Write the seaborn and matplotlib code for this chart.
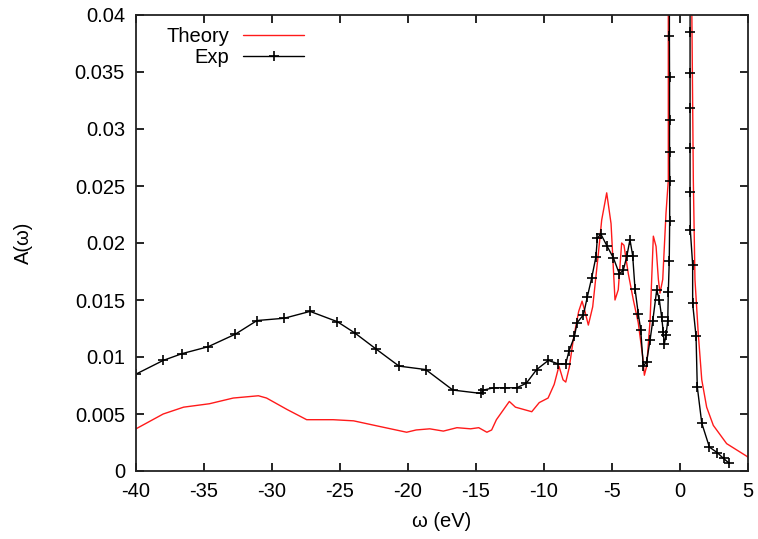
import matplotlib
matplotlib.use('Agg')
import matplotlib.pyplot as plt
import pandas as pd
import seaborn as sns

# Theory curve (red)
theory_w = [-40, -38.0, -36.5, -34.6, -32.85, -31.0, -30.4, -28.9, -27.45, -25.5,
            -24.0, -22.06, -20.1, -19.4, -18.4, -17.4, -16.4, -15.4, -14.8, -14.2,
            -13.85, -13.5, -12.55, -12.1, -10.9, -10.35, -9.7, -9.25, -8.9, -8.6,
            -8.4, -8.14, -7.85, -7.45, -7.2, -6.99, -6.74, -6.42, -6.0, -5.76,
            -5.39, -5.07, -4.78, -4.54, -4.29, -4.12, -3.8, -3.43, -3.07, -2.74,
            -2.62, -2.45, -2.2, -1.96, -1.76, -1.59, -1.47, -1.27, -1.03, -0.86,
            -0.86, 0.0, 0.85, 0.98, 1.1, 1.34, 1.6, 1.96, 2.45, 3.43, 4.9, 5.0]
theory_a = [0.0037, 0.0050, 0.0056, 0.0059, 0.0064, 0.0066, 0.0064, 0.0054, 0.0045, 0.0045,
            0.0044, 0.0039, 0.0034, 0.0036, 0.0037, 0.0035, 0.0038, 0.0037, 0.0038, 0.0034,
            0.0036, 0.0045, 0.0061, 0.0056, 0.0052, 0.0060, 0.0064, 0.0076, 0.0092, 0.0080,
            0.0078, 0.0091, 0.0115, 0.0140, 0.0149, 0.0140, 0.0128, 0.0144, 0.0191, 0.0220,
            0.0244, 0.0217, 0.0150, 0.0159, 0.0200, 0.0198, 0.0173, 0.0150, 0.0130, 0.0100,
            0.0084, 0.0092, 0.0132, 0.0206, 0.0197, 0.0168, 0.0156, 0.0168, 0.0226, 0.0255,
            0.0430, 0.0700, 0.0430, 0.0255, 0.0168, 0.0121, 0.0080, 0.0056, 0.0040, 0.0024,
            0.0013, 0.0012]

# Experimental points (black, with + markers)
exp_w = [-40, -38.0, -36.6, -34.7, -32.7, -31.1, -29.1, -27.2, -25.2, -23.9,
         -22.35, -20.66, -18.7, -16.7, -14.6, -14.45, -13.7, -12.9, -12.0, -11.3,
         -10.54, -9.68, -8.95, -8.4, -8.17, -7.76, -7.57, -7.1, -6.81, -6.5,
         -6.18, -6.08, -5.83, -5.35, -4.9, -4.46, -4.17, -3.9, -3.68, -3.48,
         -3.31, -3.07, -2.89, -2.7, -2.45, -2.2, -2.0, -1.71, -1.52, -1.35,
         -1.23, -1.16, -1.03, -0.9, -0.86, -0.79, -0.76, -0.76, -0.77, -0.77,
         -0.77, -0.78, -0.78, 0.0, 0.74, 0.74, 0.74, 0.74, 0.74, 0.74,
         0.76, 0.93, 0.93, 1.18, 1.27, 1.6, 2.16, 2.75, 3.2, 3.6]
exp_a = [0.0085, 0.0097, 0.0103, 0.0109, 0.0120, 0.0132, 0.0134, 0.0140, 0.0131, 0.0121,
         0.0107, 0.0092, 0.0089, 0.0071, 0.0068, 0.0071, 0.0073, 0.0073, 0.0073, 0.0077,
         0.0089, 0.0097, 0.0094, 0.0094, 0.0105, 0.0118, 0.0130, 0.0137, 0.0153, 0.0169,
         0.0188, 0.0204, 0.0208, 0.0197, 0.0187, 0.0173, 0.0176, 0.0189, 0.0203, 0.0189,
         0.0160, 0.0138, 0.0124, 0.0092, 0.0096, 0.0115, 0.0132, 0.0159, 0.0150, 0.0135,
         0.0122, 0.0111, 0.0119, 0.0132, 0.0157, 0.0184, 0.0219, 0.0254, 0.0280, 0.0308,
         0.0346, 0.0382, 0.0430, 0.0600, 0.0430, 0.0385, 0.0349, 0.0318, 0.0283, 0.0245,
         0.0211, 0.0181, 0.0147, 0.0118, 0.0074, 0.0042, 0.0021, 0.0016, 0.0011, 0.0007]

x_ticks = [-40, -35, -30, -25, -20, -15, -10, -5, 0, 5]
y_ticks = [0, 0.005, 0.01, 0.015, 0.02, 0.025, 0.03, 0.035, 0.04]
y_tick_labels = ['0', '0.005', '0.01', '0.015', '0.02', '0.025', '0.03', '0.035', '0.04']

sns.set_style('ticks')
plt.rcParams['font.family'] = ['Liberation Sans', 'DejaVu Sans']
plt.rcParams['font.size'] = 14.5
for key in ['text.color', 'axes.labelcolor', 'xtick.color', 'ytick.color']:
    plt.rcParams[key] = 'black'

theory = pd.DataFrame({'w': theory_w, 'A': theory_a})
exp = pd.DataFrame({'w': exp_w, 'A': exp_a})

fig = plt.figure(figsize=(7.58, 5.39), dpi=100)
ax = fig.add_axes([136 / 758, 68 / 539, 612 / 758, 456 / 539])

sns.lineplot(data=theory, x='w', y='A', sort=False, estimator=None,
             color='#ff1a1a', linewidth=1.1, label='Theory', ax=ax)
sns.lineplot(data=exp, x='w', y='A', sort=False, estimator=None,
             color='black', linewidth=1.9, marker='+', markersize=6.5,
             markeredgewidth=1.2, markeredgecolor='black', label='Exp', ax=ax)

ax.set_xlim(-40, 5)
ax.set_ylim(0, 0.04)
ax.set_xticks(x_ticks)
ax.set_xticklabels([str(t) for t in x_ticks])
ax.set_yticks(y_ticks)
ax.set_yticklabels(y_tick_labels)
ax.tick_params(direction='in', length=6, width=1.2, top=True, right=True,
               labelsize=14.5, pad=8, colors='black')
for s in ax.spines.values():
    s.set_linewidth(1.3)
    s.set_color('#222222')

ax.set_xlabel('ω (eV)', fontsize=14.5, labelpad=8)
ax.set_ylabel('A(ω)', fontsize=14.5, labelpad=30)

handles, labels = ax.get_legend_handles_labels()
for h in handles:
    h.set_linewidth(1.0)
leg = ax.legend(handles, labels, loc='upper left', bbox_to_anchor=(0.03, 1.0),
                frameon=False, markerfirst=False, handlelength=3.0,
                handletextpad=0.7, labelspacing=0.1, borderaxespad=0.2,
                fontsize=14.5)

fig.savefig('out.png', dpi=100)
